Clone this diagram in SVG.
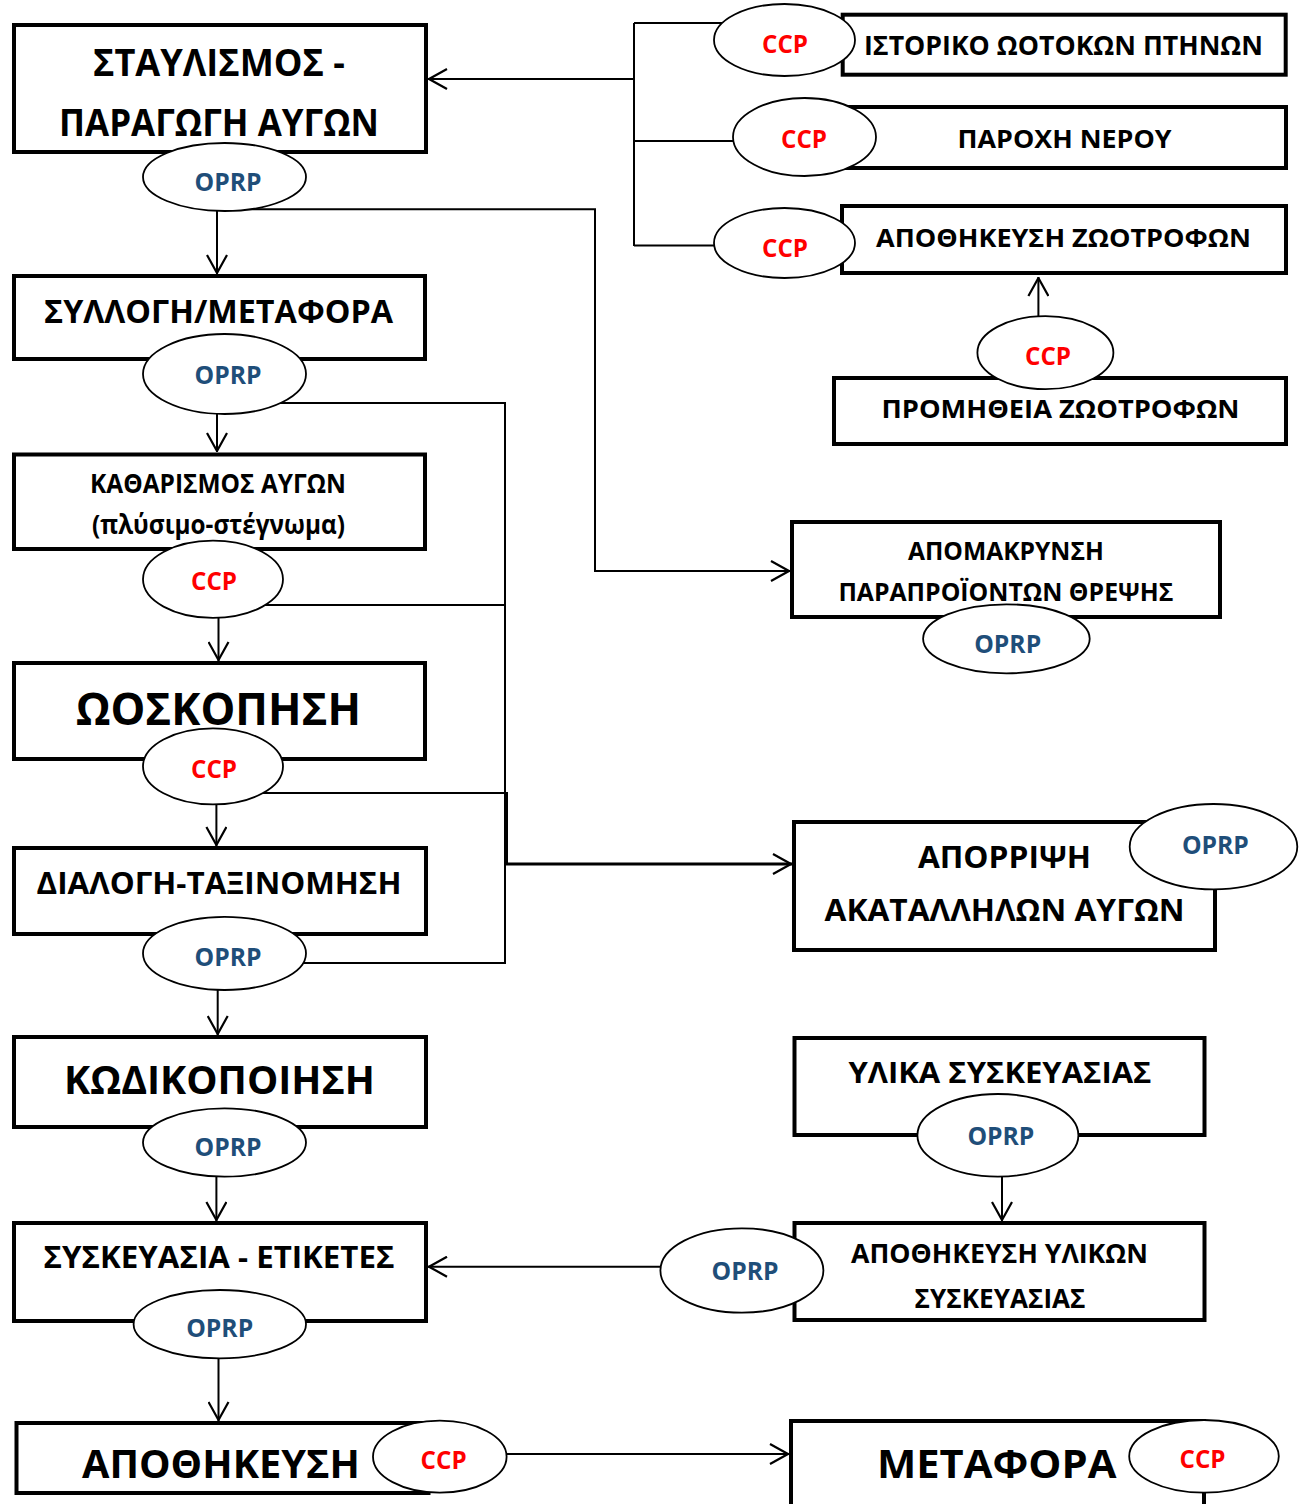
<svg xmlns="http://www.w3.org/2000/svg" width="1304" height="1504" viewBox="0 0 1304 1504">
<style>
text{font-family:"Open Sans","Noto Sans","DejaVu Sans",sans-serif;font-weight:700;text-anchor:middle;fill:#000}
.box{fill:#fff;stroke:#000;stroke-width:4}
.ell{fill:#fff;stroke:#000;stroke-width:1.8}
.ccp{fill:#ff0000;font-size:24.5px}
.oprp{fill:#1f4e79;font-size:24.5px}
.con{fill:none;stroke:#000;stroke-width:2}
.arr{marker-end:url(#ah)}
</style>
<defs>
<marker id="ah" viewBox="0 0 20 22" refX="20" refY="11" markerWidth="20" markerHeight="22" markerUnits="userSpaceOnUse" orient="auto">
<path d="M1,1 L19,11 L1,21" fill="none" stroke="#000" stroke-width="2.2"/>
</marker>
</defs>
<rect width="1304" height="1504" fill="#fff"/>
<g id="connectors">
<path class="con" d="M634,23 V246 M634,23 H760 M634,141 H800 M634,245.6 H780"/>
<path class="con arr" d="M634,79 H428"/>
<path class="con arr" d="M1038.4,330 V277"/>
<path class="con arr" d="M217,190 V274"/>
<path class="con arr" d="M230,209.3 H595 V571 H790"/>
<path class="con arr" d="M217,390 V452"/>
<path class="con" d="M230,403 H505 V963 H224"/>
<path class="con" d="M213,605 H506"/>
<path class="con" d="M213,793 H507 V864"/>
<path class="con arr" style="stroke-width:3" d="M505,864 H792"/>
<path class="con arr" d="M218.5,590 V661"/>
<path class="con arr" d="M216.4,780 V846"/>
<path class="con arr" d="M217.7,970 V1035"/>
<path class="con arr" d="M216.4,1160 V1221"/>
<path class="con arr" d="M218.5,1340 V1421"/>
<path class="con arr" d="M742,1266.7 H428"/>
<path class="con arr" d="M1002,1150 V1221"/>
<path class="con arr" d="M460,1454 H789"/>
</g>
<g id="n-stavlismos">
<rect class="box" x="14" y="25" width="412" height="127"/>
<text x="219" y="76" font-size="38" textLength="252" lengthAdjust="spacingAndGlyphs">ΣΤΑΥΛΙΣΜΟΣ -</text>
<text x="219" y="136" font-size="38" textLength="320" lengthAdjust="spacingAndGlyphs">ΠΑΡΑΓΩΓΗ ΑΥΓΩΝ</text>
<ellipse class="ell" cx="224.5" cy="177" rx="81.5" ry="34"/>
<text class="oprp" x="228" y="191" textLength="67" lengthAdjust="spacingAndGlyphs">OPRP</text>
</g>
<g id="n-syllogi">
<rect class="box" x="14" y="276" width="411" height="83"/>
<text x="218.5" y="322.7" font-size="32" textLength="349" lengthAdjust="spacingAndGlyphs">ΣΥΛΛΟΓΗ/ΜΕΤΑΦΟΡΑ</text>
<ellipse class="ell" cx="224.5" cy="374" rx="81.5" ry="40"/>
<text class="oprp" x="228" y="384" textLength="67" lengthAdjust="spacingAndGlyphs">OPRP</text>
</g>
<g id="n-katharismos">
<rect class="box" x="14" y="454.5" width="411" height="94.5"/>
<text x="218" y="493" font-size="26.5" textLength="256" lengthAdjust="spacingAndGlyphs">ΚΑΘΑΡΙΣΜΟΣ ΑΥΓΩΝ</text>
<text x="218.5" y="533.5" font-size="26.5" textLength="253" lengthAdjust="spacingAndGlyphs">(πλύσιμο-στέγνωμα)</text>
<ellipse class="ell" cx="213" cy="579.3" rx="70" ry="38.6"/>
<text class="ccp" x="214" y="590" textLength="46" lengthAdjust="spacingAndGlyphs">CCP</text>
</g>
<g id="n-ooskopisi">
<rect class="box" x="14" y="663" width="411" height="96"/>
<text x="218.5" y="725" font-size="45" textLength="285" lengthAdjust="spacingAndGlyphs">ΩΟΣΚΟΠΗΣΗ</text>
<ellipse class="ell" cx="213" cy="766.4" rx="70" ry="38"/>
<text class="ccp" x="214" y="777.5" textLength="46" lengthAdjust="spacingAndGlyphs">CCP</text>
</g>
<g id="n-dialogi">
<rect class="box" x="14" y="848" width="412" height="86"/>
<text x="219" y="894" font-size="31" textLength="365" lengthAdjust="spacingAndGlyphs">ΔΙΑΛΟΓΗ-ΤΑΞΙΝΟΜΗΣΗ</text>
<ellipse class="ell" cx="224.5" cy="953.4" rx="81.5" ry="36.6"/>
<text class="oprp" x="228" y="965.7" textLength="67" lengthAdjust="spacingAndGlyphs">OPRP</text>
</g>
<g id="n-kodikopoiisi">
<rect class="box" x="14" y="1037" width="412" height="90"/>
<text x="219.5" y="1094" font-size="40" textLength="311" lengthAdjust="spacingAndGlyphs">ΚΩΔΙΚΟΠΟΙΗΣΗ</text>
<ellipse class="ell" cx="224.5" cy="1142.5" rx="81.5" ry="34.2"/>
<text class="oprp" x="228" y="1156" textLength="67" lengthAdjust="spacingAndGlyphs">OPRP</text>
</g>
<g id="n-syskevasia">
<rect class="box" x="14" y="1223" width="412" height="98"/>
<text x="219" y="1268" font-size="29.5" textLength="351" lengthAdjust="spacingAndGlyphs">ΣΥΣΚΕΥΑΣΙΑ - ΕΤΙΚΕΤΕΣ</text>
<ellipse class="ell" cx="219.8" cy="1324.2" rx="86.2" ry="34.2"/>
<text class="oprp" x="219.7" y="1336.7" textLength="67" lengthAdjust="spacingAndGlyphs">OPRP</text>
</g>
<g id="n-apothikefsi">
<rect class="box" x="16.5" y="1423" width="412" height="70"/>
<text x="221" y="1478" font-size="39" textLength="278" lengthAdjust="spacingAndGlyphs">ΑΠΟΘΗΚΕΥΣΗ</text>
<ellipse class="ell" cx="439.8" cy="1456.7" rx="66.8" ry="36"/>
<text class="ccp" x="443.6" y="1469.3" textLength="46" lengthAdjust="spacingAndGlyphs">CCP</text>
</g>
<g id="n-istoriko">
<rect class="box" x="842.7" y="14.7" width="443" height="60"/>
<ellipse class="ell" cx="784.5" cy="40" rx="70.5" ry="36"/>
<text x="1063.5" y="55" font-size="26.6" textLength="399" lengthAdjust="spacingAndGlyphs">ΙΣΤΟΡΙΚΟ ΩΟΤΟΚΩΝ ΠΤΗΝΩΝ</text>
<text class="ccp" x="785" y="52.7" textLength="46" lengthAdjust="spacingAndGlyphs">CCP</text>
</g>
<g id="n-paroxi">
<rect class="box" x="842" y="107" width="444" height="61"/>
<ellipse class="ell" cx="804.5" cy="137" rx="71.5" ry="39"/>
<text x="1064.6" y="147.7" font-size="25.7" textLength="214" lengthAdjust="spacingAndGlyphs">ΠΑΡΟΧΗ ΝΕΡΟΥ</text>
<text class="ccp" x="804" y="148" textLength="46" lengthAdjust="spacingAndGlyphs">CCP</text>
</g>
<g id="n-apoth-zootrofon">
<rect class="box" x="842" y="206" width="444" height="67"/>
<ellipse class="ell" cx="784.5" cy="243" rx="70.5" ry="35"/>
<text x="1063.5" y="246.7" font-size="25.7" textLength="375" lengthAdjust="spacingAndGlyphs">ΑΠΟΘΗΚΕΥΣΗ ΖΩΟΤΡΟΦΩΝ</text>
<text class="ccp" x="785" y="257" textLength="46" lengthAdjust="spacingAndGlyphs">CCP</text>
</g>
<g id="n-promitheia">
<rect class="box" x="834" y="378" width="452" height="66"/>
<ellipse class="ell" cx="1045.4" cy="352.7" rx="68" ry="36.5"/>
<text class="ccp" x="1048" y="365" textLength="46" lengthAdjust="spacingAndGlyphs">CCP</text>
<text x="1060.5" y="418.3" font-size="24.3" textLength="358" lengthAdjust="spacingAndGlyphs">ΠΡΟΜΗΘΕΙΑ ΖΩΟΤΡΟΦΩΝ</text>
</g>
<g id="n-apomakrynsi">
<rect class="box" x="792" y="522" width="428" height="95"/>
<text x="1005.9" y="560" font-size="24.3" textLength="196" lengthAdjust="spacingAndGlyphs">ΑΠΟΜΑΚΡΥΝΣΗ</text>
<text x="1005.9" y="601" font-size="24.3" textLength="335" lengthAdjust="spacingAndGlyphs">ΠΑΡΑΠΡΟΪΟΝΤΩΝ ΘΡΕΨΗΣ</text>
<ellipse class="ell" cx="1006.4" cy="638.8" rx="83.3" ry="34.5"/>
<text class="oprp" x="1007.7" y="652.7" textLength="67" lengthAdjust="spacingAndGlyphs">OPRP</text>
</g>
<g id="n-aporripsi">
<rect class="box" x="794" y="822" width="421" height="128"/>
<text x="1004.4" y="868.3" font-size="30.4" textLength="173" lengthAdjust="spacingAndGlyphs">ΑΠΟΡΡΙΨΗ</text>
<text x="1004.6" y="920.7" font-size="30.4" textLength="360" lengthAdjust="spacingAndGlyphs">ΑΚΑΤΑΛΛΗΛΩΝ ΑΥΓΩΝ</text>
<ellipse class="ell" cx="1213.5" cy="846.7" rx="83.8" ry="42.7"/>
<text class="oprp" x="1215.4" y="854" textLength="67" lengthAdjust="spacingAndGlyphs">OPRP</text>
</g>
<g id="n-ylika">
<rect class="box" x="794.5" y="1038" width="410" height="97"/>
<text x="1000" y="1083.3" font-size="29" textLength="303" lengthAdjust="spacingAndGlyphs">ΥΛΙΚΑ ΣΥΣΚΕΥΑΣΙΑΣ</text>
<ellipse class="ell" cx="997.9" cy="1135.3" rx="80.5" ry="41.3"/>
<text class="oprp" x="1000.9" y="1145" textLength="67" lengthAdjust="spacingAndGlyphs">OPRP</text>
</g>
<g id="n-apoth-ylikon">
<rect class="box" x="794.5" y="1223" width="410" height="97"/>
<ellipse class="ell" cx="741.9" cy="1270.5" rx="81.5" ry="42.2"/>
<text x="999.5" y="1263.3" font-size="27" textLength="297" lengthAdjust="spacingAndGlyphs">ΑΠΟΘΗΚΕΥΣΗ ΥΛΙΚΩΝ</text>
<text x="1000" y="1308.3" font-size="27" textLength="171" lengthAdjust="spacingAndGlyphs">ΣΥΣΚΕΥΑΣΙΑΣ</text>
<text class="oprp" x="745" y="1280" textLength="67" lengthAdjust="spacingAndGlyphs">OPRP</text>
</g>
<g id="n-metafora">
<rect class="box" x="791" y="1421" width="413" height="100"/>
<text x="996.7" y="1478.3" font-size="40" textLength="239.5" lengthAdjust="spacingAndGlyphs">ΜΕΤΑΦΟΡΑ</text>
<ellipse class="ell" cx="1204" cy="1456.3" rx="74.8" ry="36.3"/>
<text class="ccp" x="1202.5" y="1468.3" textLength="46" lengthAdjust="spacingAndGlyphs">CCP</text>
</g>
</svg>
